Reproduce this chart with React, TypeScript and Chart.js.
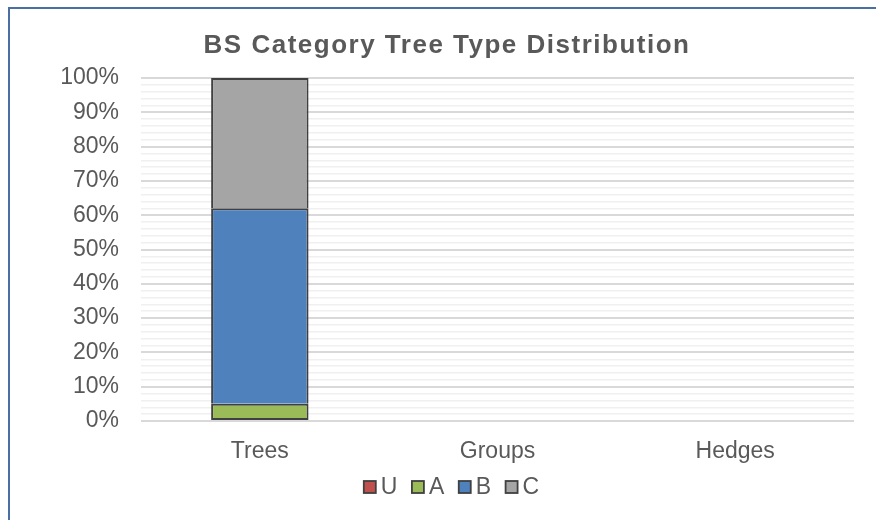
import React, { useEffect, useRef } from "react";
import { Chart, registerables } from "chart.js";

Chart.register(...registerables);

const TITLE = "BS Category Tree Type Distribution";
const CATEGORIES = ["Trees", "Groups", "Hedges"];
const SERIES_NAMES = ["U", "A", "B", "C"];
const U_VALUES = [0, 0, 0];
const A_VALUES = [5, 0, 0];
const B_VALUES = [57, 0, 0];
const C_VALUES = [38, 0, 0];
const SERIES_COLORS = ["#c0504d", "#9bbb59", "#4f81bd", "#a5a5a5"];
const Y_MIN = 0;
const Y_MAX = 100;
const Y_MINOR_STEP = 2;
const Y_MAJOR_STEP = 10;

const FONT = "'Liberation Sans', Arial, sans-serif";
const TEXT_COLOR = "#595959";
const EDGE_COLOR = "#404040";

const titlePlugin = {
  id: "excelTitle",
  afterDraw(chart: any) {
    const ctx = chart.ctx;
    ctx.save();
    ctx.font = `bold 26px ${FONT}`;
    ctx.fillStyle = TEXT_COLOR;
    ctx.textAlign = "center";
    ctx.textBaseline = "alphabetic";
    (ctx as any).letterSpacing = "1.5px";
    ctx.fillText(TITLE, 447, 53);
    ctx.restore();
  },
};

const legendPlugin = {
  id: "excelLegend",
  afterDraw(chart: any) {
    const ctx = chart.ctx;
    const box = 12;
    const gap = 5;
    const spacing = 14.5;
    ctx.save();
    ctx.font = `23px ${FONT}`;
    const items = chart.data.datasets.map((d: any) => ({
      label: d.label as string,
      color: d.backgroundColor as string,
      w: ctx.measureText(d.label).width,
    }));
    const total =
      items.reduce((s: number, it: any) => s + box + gap + it.w, 0) +
      spacing * (items.length - 1);
    let x = 451.5 - total / 2;
    const boxTop = 481;
    const baseline = 494;
    for (const it of items) {
      ctx.fillStyle = it.color;
      ctx.fillRect(x, boxTop, box, box);
      ctx.lineWidth = 1.8;
      ctx.strokeStyle = EDGE_COLOR;
      ctx.strokeRect(x, boxTop, box, box);
      ctx.fillStyle = TEXT_COLOR;
      ctx.textAlign = "left";
      ctx.textBaseline = "alphabetic";
      ctx.fillText(it.label, x + box + gap, baseline);
      x += box + gap + it.w + spacing;
    }
    ctx.restore();
  },
};

function ChartView() {
  const ref = useRef<HTMLCanvasElement | null>(null);
  useEffect(() => {
    if (!ref.current) return;
    const values = [U_VALUES, A_VALUES, B_VALUES, C_VALUES];
    const chart = new Chart(ref.current, {
      type: "bar",
      data: {
        labels: CATEGORIES,
        datasets: SERIES_NAMES.map((name, i) => ({
          label: name,
          data: values[i],
          backgroundColor: SERIES_COLORS[i],
          borderColor: EDGE_COLOR,
          borderWidth: 2,
          borderSkipped: i <= 1 ? false : "start",
          categoryPercentage: 1,
          barPercentage: 0.41,
        })),
      },
      options: {
        animation: false,
        responsive: false,
        devicePixelRatio: 1,
        layout: { padding: { left: 60, right: 22, top: 78, bottom: 49 } },
        plugins: {
          legend: { display: false },
          title: { display: false },
          tooltip: { enabled: false },
        },
        scales: {
          x: {
            stacked: true,
            grid: { display: false },
            border: { display: false },
            ticks: {
              padding: 9,
              color: TEXT_COLOR,
              font: { family: FONT, size: 23 },
            },
            afterFit: (s: any) => {
              s.height = 50;
            },
          },
          y: {
            stacked: true,
            min: Y_MIN,
            max: Y_MAX,
            border: { display: false },
            grid: {
              drawTicks: false,
              color: (c: any) =>
                c.tick && Math.round(c.tick.value) % Y_MAJOR_STEP === 0 ? "#d9d9d9" : "#f0f0f0",
              lineWidth: (c: any) =>
                c.tick && Math.round(c.tick.value) % Y_MAJOR_STEP === 0 ? 2 : 1.5,
            },
            ticks: {
              stepSize: Y_MINOR_STEP,
              autoSkip: false,
              padding: 22,
              color: TEXT_COLOR,
              font: { family: FONT, size: 23 },
              callback: (v: any) =>
                Math.round(Number(v)) % Y_MAJOR_STEP === 0 ? `${Math.round(Number(v))}%` : "",
            },
            afterFit: (s: any) => {
              s.width = 81;
            },
          },
        },
      },
      plugins: [titlePlugin, legendPlugin],
    });
    return () => chart.destroy();
  }, []);
  return (
    <canvas
      ref={ref}
      width={876}
      height={520}
      style={{ position: "fixed", left: 0, top: 0, width: 876, height: 520 }}
    />
  );
}

export default function App() {
  return (
    <div>
      <ChartView />
      <div
        style={{
          position: "fixed",
          left: 8,
          top: 7,
          width: 900,
          height: 540,
          borderLeft: "2px solid #4a6fa5",
          borderTop: "2px solid #4a6fa5",
          pointerEvents: "none",
        }}
      />
    </div>
  );
}
